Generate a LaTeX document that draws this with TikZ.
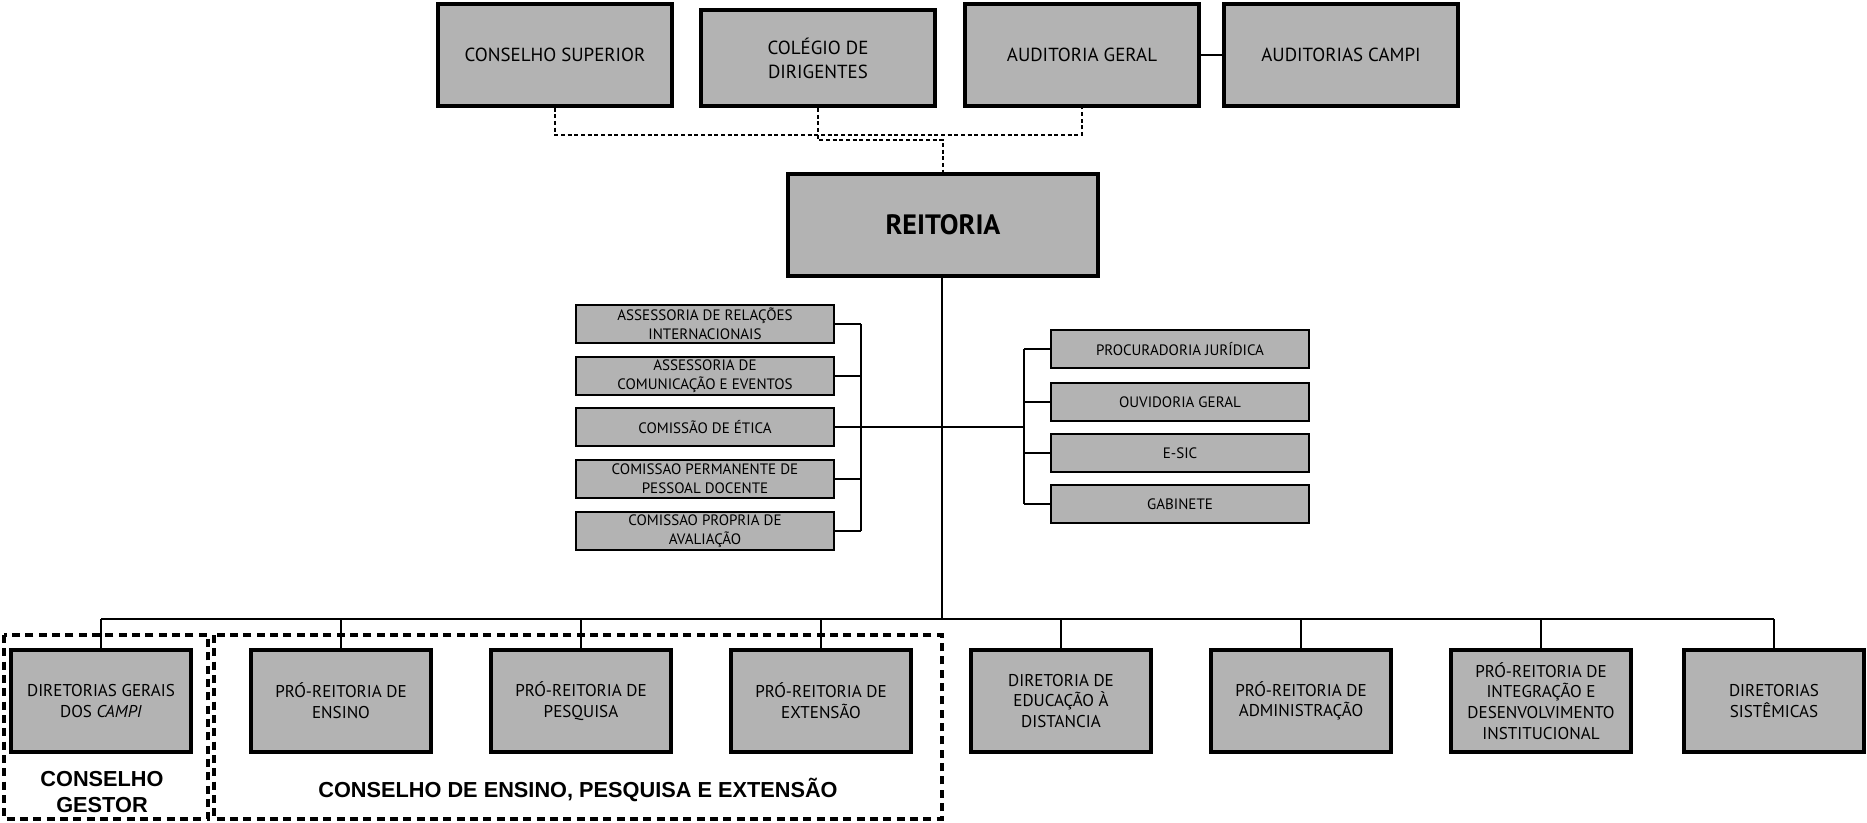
\documentclass[tikz,border=0pt]{standalone}
\usepackage{fontspec}
\setmainfont{PT Sans}
\newfontfamily\labfont{Liberation Sans}
\definecolor{boxgray}{HTML}{B3B3B3}
\begin{document}
\begin{tikzpicture}[x=0.75pt,y=-0.75pt,
  bigbox/.style={draw, line width=3pt, fill=boxgray, align=center, inner sep=2pt,
    minimum width=176pt, minimum height=76pt, font=\fontsize{14.2}{18}\selectfont},
  botbox/.style={draw, line width=3pt, fill=boxgray, align=center, inner sep=2pt,
    minimum width=135pt, minimum height=77pt, font=\fontsize{12.8}{15.5}\selectfont},
  smallbox/.style={draw, line width=1.6pt, fill=boxgray, align=center, inner sep=1pt,
    minimum width=194pt, minimum height=29pt, font=\fontsize{11.3}{14.5}\selectfont},
  link/.style={line width=1.3pt},
  dlink/.style={line width=1.3pt, dash pattern=on 3pt off 2pt},
  grp/.style={draw, line width=2.6pt, dash pattern=on 6pt off 4pt},
  grplabel/.style={align=center, font=\labfont\bfseries\fontsize{16.3}{19.5}\selectfont}]
\useasboundingbox (0,0) rectangle (1867,823);
% top row
\node[bigbox] (cs) at (555,55) {CONSELHO SUPERIOR};
\node[bigbox, minimum height=72pt] (cd) at (818,58) {COLÉGIO DE\\DIRIGENTES};
\node[bigbox] (ag) at (1082,55) {AUDITORIA GERAL};
\node[bigbox] (ac) at (1341,55) {AUDITORIAS CAMPI};
\node[bigbox, minimum width=232pt, font=\bfseries\fontsize{21}{24}\selectfont] (rt) at (943,225) {REITORIA};
% left column
\node[smallbox] (l1) at (705,324) {ASSESSORIA DE RELAÇÕES\\INTERNACIONAIS};
\node[smallbox] (l2) at (705,376) {ASSESSORIA DE\\COMUNICAÇÃO E EVENTOS};
\node[smallbox] (l3) at (705,427) {COMISSÃO DE ÉTICA};
\node[smallbox] (l4) at (705,479) {COMISSAO PERMANENTE DE\\PESSOAL DOCENTE};
\node[smallbox] (l5) at (705,531) {COMISSAO PROPRIA DE\\AVALIAÇÃO};
% right column
\node[smallbox] (r1) at (1180,349) {PROCURADORIA JURÍDICA};
\node[smallbox] (r2) at (1180,402) {OUVIDORIA GERAL};
\node[smallbox] (r3) at (1180,453) {E-SIC};
\node[smallbox] (r4) at (1180,504) {GABINETE};
% bottom row
\node[botbox] (b1) at (101,701) {DIRETORIAS GERAIS\\DOS \textit{CAMPI}};
\node[botbox] (b2) at (341,701) {PRÓ-REITORIA DE\\ENSINO};
\node[botbox] (b3) at (581,701) {PRÓ-REITORIA DE\\PESQUISA};
\node[botbox] (b4) at (821,701) {PRÓ-REITORIA DE\\EXTENSÃO};
\node[botbox] (b5) at (1061,701) {DIRETORIA DE\\EDUCAÇÃO À\\DISTANCIA};
\node[botbox] (b6) at (1301,701) {PRÓ-REITORIA DE\\ADMINISTRAÇÃO};
\node[botbox] (b7) at (1541,701) {PRÓ-REITORIA DE\\INTEGRAÇÃO E\\DESENVOLVIMENTO\\INSTITUCIONAL};
\node[botbox] (b8) at (1774,701) {DIRETORIAS\\SISTÊMICAS};
% groups
\draw[grp] (4,635) rectangle (208,819);
\draw[grp] (214,635) rectangle (942,819);
\node[grplabel] (gl1) at (102,792) {CONSELHO\\GESTOR};
\node[grplabel] (gl2) at (578,790) {CONSELHO DE ENSINO, PESQUISA E EXTENSÃO};
% coordinates
\coordinate (lb) at (861,427);
\coordinate (rb) at (1024,427);
\coordinate (bus) at (942,619);
% top connectors
\draw[link] (ag.east) -- (ac.west);
\draw[dlink] (cs.south) -- (cs.south |- 0,135) -| (ag.south);
\draw[dlink] (cd.south) -- (cd.south |- 0,140) -| (rt.north);
% reitoria trunk
\draw[link] (rt.south -| bus) -- (bus);
\draw[link] (l3.east) -- (rb);
\foreach \n in {l1,l2,l3,l4,l5} \draw[link] (\n.east) -- (\n.east -| lb);
\draw[link] (l1.east -| lb) -- (l5.east -| lb);
\foreach \n in {r1,r2,r3,r4} \draw[link] (\n.west) -- (\n.west -| rb);
\draw[link] (r1.west -| rb) -- (r4.west -| rb);
% bus
\draw[link] (b1.north |- bus) -- (b8.north |- bus);
\foreach \n in {b1,b2,b3,b4,b5,b6,b7,b8} \draw[link] (\n.north) -- (\n.north |- bus);
\end{tikzpicture}
\end{document}
